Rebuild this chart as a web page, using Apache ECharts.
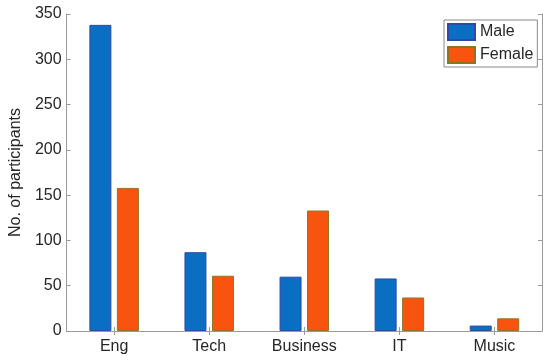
<!DOCTYPE html>
<html>
<head>
<meta charset="utf-8">
<script src="https://cdn.jsdelivr.net/npm/echarts@6/dist/echarts.min.js"></script>
<style>html,body{margin:0;padding:0;background:#fff}#c{width:550px;height:362px}</style>
</head>
<body>
<div id="c"></div>
<script>
const categories = ['Eng', 'Tech', 'Business', 'IT', 'Music'];
const maleValues = [338, 87, 60, 58, 6];
const femaleValues = [158, 61, 133, 37, 14];
const yTicks = [0, 50, 100, 150, 200, 250, 300, 350];

const font = '"Liberation Sans", Arial, Helvetica, sans-serif';
const axisColor = '#9a9a9a';
const textColor = '#262626';

const chart = echarts.init(document.getElementById('c'), null, {renderer: 'canvas'});
chart.setOption({
  animation: false,
  backgroundColor: '#fff',
  grid: {left: 58, right: 8, top: 14, bottom: 31, containLabel: false},
  legend: {
    data: [{name: 'Male', icon: 'rect'}, {name: 'Female', icon: 'rect'}],
    orient: 'vertical',
    left: 444, top: 20,
    itemWidth: 27, itemHeight: 16, itemGap: 5,
    padding: [3, 4, 3, 3],
    borderColor: '#8a8a8a', borderWidth: 1,
    backgroundColor: '#fff',
    textStyle: {fontFamily: font, fontSize: 16, color: textColor}
  },
  xAxis: [{
    type: 'category', data: categories, position: 'bottom',
    axisLine: {lineStyle: {color: axisColor, width: 1}},
    axisTick: {show: true, inside: true, alignWithLabel: true, length: 4, lineStyle: {color: axisColor}},
    axisLabel: {fontFamily: font, fontSize: 16, color: textColor, margin: 8},
    splitLine: {show: false}
  }, {
    type: 'category', data: categories, position: 'top',
    axisLine: {lineStyle: {color: axisColor, width: 1}},
    axisTick: {show: true, inside: true, alignWithLabel: true, length: 4, lineStyle: {color: axisColor}},
    axisLabel: {show: false},
    splitLine: {show: false}
  }],
  yAxis: [{
    type: 'value', min: 0, max: 350, interval: 50, position: 'left',
    name: 'No. of participants', nameLocation: 'middle', nameGap: 40,
    nameTextStyle: {fontFamily: font, fontSize: 16, color: textColor},
    axisLine: {show: true, lineStyle: {color: axisColor, width: 1}},
    axisTick: {show: true, inside: true, length: 4, lineStyle: {color: axisColor}},
    axisLabel: {fontFamily: font, fontSize: 16, color: textColor, margin: 5,
      formatter: v => yTicks.includes(v) ? String(v) : ''},
    splitLine: {show: false}
  }, {
    type: 'value', min: 0, max: 350, interval: 50, position: 'right',
    axisLine: {show: true, lineStyle: {color: axisColor, width: 1}},
    axisTick: {show: true, inside: true, length: 4, lineStyle: {color: axisColor}},
    axisLabel: {show: false},
    splitLine: {show: false}
  }],
  series: [{
    name: 'Male', type: 'bar', data: maleValues,
    xAxisIndex: 0, yAxisIndex: 0,
    barWidth: 22, barGap: '25%',
    itemStyle: {color: '#0a6fc2', borderColor: '#2e4aa6', borderWidth: 1}
  }, {
    name: 'Female', type: 'bar', data: femaleValues,
    xAxisIndex: 0, yAxisIndex: 0,
    barWidth: 22, barGap: '25%',
    itemStyle: {color: '#f9540f', borderColor: '#8e7420', borderWidth: 1}
  }]
});
</script>
</body>
</html>
